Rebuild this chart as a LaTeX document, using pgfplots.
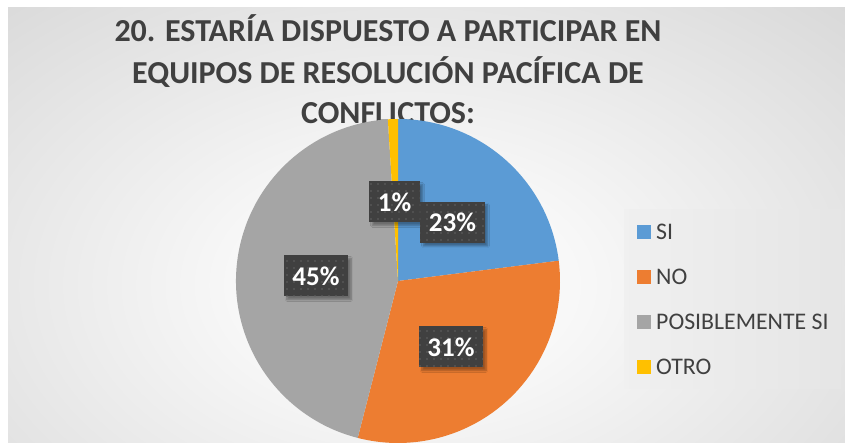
\documentclass[border=0pt]{standalone}
\usepackage{pgfplots}
\pgfplotsset{compat=1.18}
\usepackage{pgfplotstable}
\usepackage{fontspec}
\setmainfont{Carlito}
\usetikzlibrary{shadows.blur,patterns.meta}
\definecolor{cSI}{HTML}{5B9BD5}
\definecolor{cNO}{HTML}{ED7D31}
\definecolor{cPS}{HTML}{A5A5A5}
\definecolor{cOT}{HTML}{FFC000}
\definecolor{txt}{HTML}{404040}
\definecolor{lbl}{HTML}{404040}
\pgfdeclareradialshading{bgshade}{\pgfpoint{0bp}{0bp}}{color(0bp)=(white); color(10bp)=(white!97!black); color(40bp)=(black!17); color(75bp)=(black!24)}
\pgfplotstableread{
name value
SI 23
NO 31
POSIBLEMENTE_SI 45
OTRO 1
}\piedata
\pgfplotstablegetelem{0}{value}\of\piedata \pgfmathsetmacro\vA{\pgfplotsretval}
\pgfplotstablegetelem{1}{value}\of\piedata \pgfmathsetmacro\vB{\pgfplotsretval}
\pgfplotstablegetelem{2}{value}\of\piedata \pgfmathsetmacro\vC{\pgfplotsretval}
\pgfplotstablegetelem{3}{value}\of\piedata \pgfmathsetmacro\vD{\pgfplotsretval}
\pgfmathsetmacro\aA{90}
\pgfmathsetmacro\aB{\aA-3.6*\vA}
\pgfmathsetmacro\aC{\aB-3.6*\vB}
\pgfmathsetmacro\aD{\aC-3.6*\vC}
\pgfmathsetmacro\aE{\aD-3.6*\vD}
\begin{document}
\begin{tikzpicture}[trim left=0pt, trim right=845pt]
\clip (0,0) rectangle (845pt,443pt);
\begin{axis}[scale only axis, width=845pt, height=443pt,
  xmin=0, xmax=845, ymin=0, ymax=443, hide axis, ticks=none, clip=false]
\path (axis cs:0,0) rectangle (axis cs:845,443);
% background
\begin{scope}
\clip (axis cs:8,0) rectangle (axis cs:845,435);
\shade[shading=bgshade] (axis cs:-25,-119) rectangle (axis cs:845,435);
\end{scope}
% title
\node[anchor=base, text=txt, font=\bfseries\fontsize{32}{38}\selectfont] at (axis cs:388,401) {20. ESTARÍA DISPUESTO A PARTICIPAR EN};
\node[anchor=base, text=txt, font=\bfseries\fontsize{32}{38}\selectfont] at (axis cs:388,359) {EQUIPOS DE RESOLUCIÓN PACÍFICA DE};
\node[anchor=base, text=txt, font=\bfseries\fontsize{32}{38}\selectfont] at (axis cs:388,319) {CONFLICTOS:};
% pie
\fill[cSI] (axis cs:398,162) -- ++(\aA:162pt) arc[start angle=\aA, end angle=\aB, radius=162pt] -- cycle;
\fill[cNO] (axis cs:398,162) -- ++(\aB:162pt) arc[start angle=\aB, end angle=\aC, radius=162pt] -- cycle;
\fill[cPS] (axis cs:398,162) -- ++(\aC:162pt) arc[start angle=\aC, end angle=\aD, radius=162pt] -- cycle;
\fill[cOT] (axis cs:398,162) -- ++(\aD:162pt) arc[start angle=\aD, end angle=\aE, radius=162pt] -- cycle;
% data labels
\tikzset{lab/.style={fill=lbl, text=white, font=\bfseries\fontsize{27}{31}\selectfont,
  inner xsep=8.5pt, minimum height=41pt,
  blur shadow={shadow xshift=3pt, shadow yshift=-3pt, shadow blur steps=6, shadow opacity=35},
  postaction={pattern={Dots[distance=7pt, radius=0.8pt]}, pattern color=black!62}}}
\node[lab] at (axis cs:394.5,241) {1\%};
\node[lab] at (axis cs:452.5,220.5) {23\%};
\node[lab] at (axis cs:316,167) {45\%};
\node[lab] at (axis cs:451,96) {31\%};
% legend
\shade[left color=black!6, right color=black!10] (axis cs:624,54) rectangle (axis cs:841,233);
\fill[cSI] (axis cs:637,204) rectangle (axis cs:651,218);
\fill[cNO] (axis cs:637,159) rectangle (axis cs:651,173);
\fill[cPS] (axis cs:637,114) rectangle (axis cs:651,128);
\fill[cOT] (axis cs:637,69) rectangle (axis cs:651,83);
\tikzset{leg/.style={anchor=west, text=txt, inner xsep=0pt, font=\fontsize{23.8}{27}\selectfont}}
\node[leg] at (axis cs:656,211) {SI};
\node[leg] at (axis cs:656,166) {NO};
\node[leg] at (axis cs:656,121) {POSIBLEMENTE SI};
\node[leg] at (axis cs:656,76) {OTRO};
\end{axis}
\end{tikzpicture}
\end{document}
